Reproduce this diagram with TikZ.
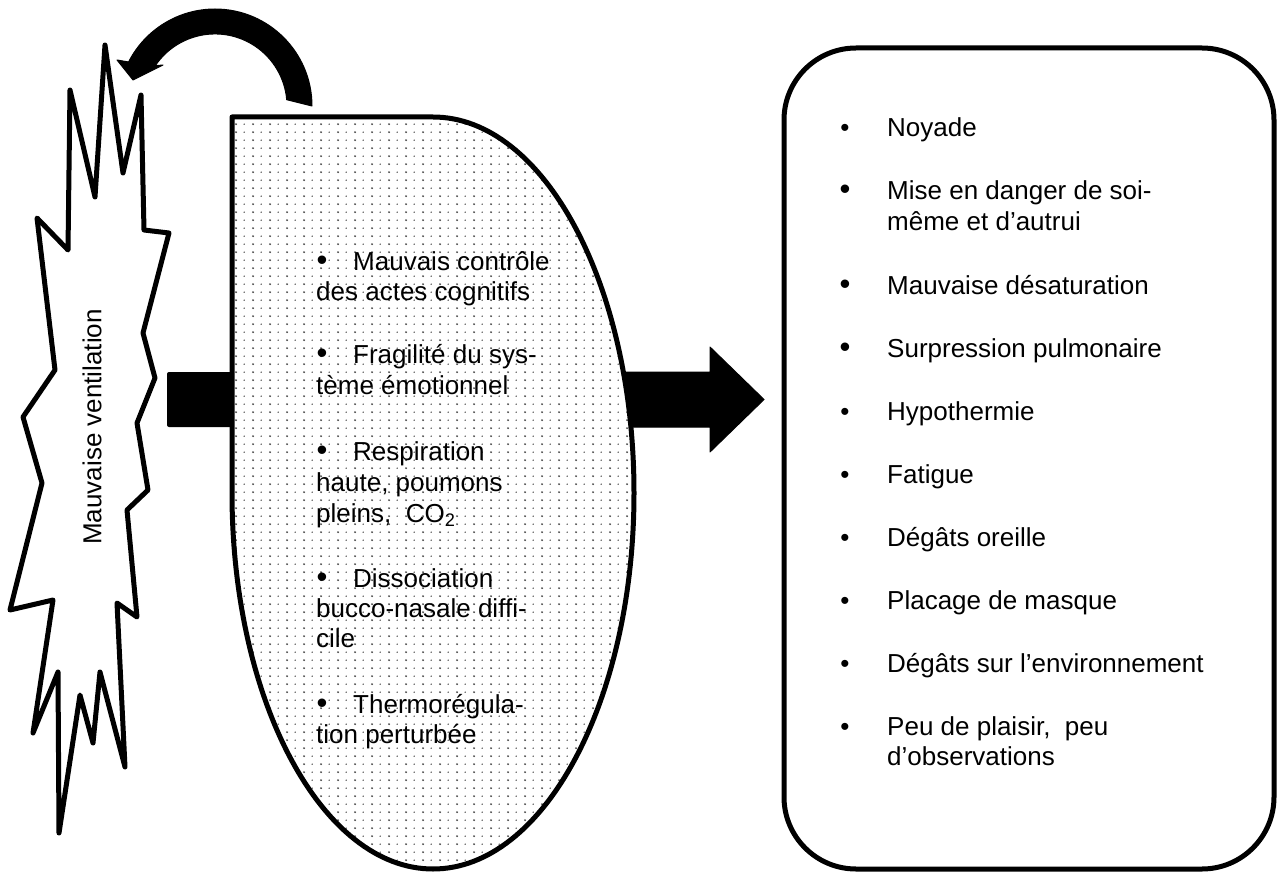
\documentclass[tikz,border=0pt]{standalone}
\usepackage{fontspec}
\setmainfont{Liberation Sans}
\usetikzlibrary{patterns.meta}

% halftone dot screen for the central body
\tikzdeclarepattern{
  name=halftone,
  type=uncolored,
  bounding box={(0pt,0pt) and (16.6pt,8.3pt)},
  tile size={(16.6pt,8.3pt)},
  code={
    \fill (4.15pt,4.15pt) circle (1.15pt);
    \fill (12.45pt,4.15pt) circle (0.8pt);
  }
}

\begin{document}
\begin{tikzpicture}[x=1pt,y=-1pt,
  outline/.style={line width=5pt, line join=round},
  txt/.style={inner sep=0pt, anchor=base west, font=\fontsize{26}{30}\selectfont},
  blt/.style={inner sep=0pt, anchor=base, font=\fontsize{26}{30}\selectfont},
  bigblt/.style={inner sep=0pt, anchor=base, font=\fontsize{31}{30}\selectfont},
]
\useasboundingbox (0,0) rectangle (1278,872);

% incoming bar (its head hides behind the body)
\fill[rounded corners=2pt] (167,372) rectangle (240,427);

% outgoing block arrow
\filldraw[line width=1pt, line join=round]
  (600,372) -- (710,372) -- (710,347) -- (764,399.5) -- (710,452)
  -- (710,427) -- (600,427) -- cycle;

% central body: ellipse with a square upper-left corner
\draw[outline, preaction={fill=white}, pattern=halftone, pattern color=black!70]
  (232,117) -- (433,117)
  arc[start angle=-90, end angle=180, x radius=201, y radius=376]
  -- cycle;

% curved feedback arrow
\filldraw[line width=1pt, line join=round]
  (312,106) arc[start angle=0, end angle=-153, radius=97]
  -- (117,60) -- (133,80) -- (163,65) -- (155.3,65.7)
  arc[start angle=-146, end angle=-5, radius=72]
  -- cycle;

% jagged burst
\draw[outline, fill=white]
  (105,45) -- (123,173) -- (141,95) -- (144,230) -- (169,233) -- (143,333)
  -- (155,378) -- (137,423) -- (148,490) -- (127,510) -- (137,617)
  -- (117,603) -- (125,767) -- (100,672) -- (93,743) -- (80,695)
  -- (59,833) -- (58,672) -- (33,733) -- (53,600) -- (10,610)
  -- (42,483) -- (23,417) -- (55,370) -- (37,218) -- (68,250)
  -- (70,90) -- (95,197) -- cycle;
\node[rotate=90, inner sep=0pt, font=\fontsize{26}{30}\selectfont] (vent) at (92,427) {Mauvaise ventilation};

% consequences box
\draw[outline, rounded corners=72pt] (784,48) rectangle (1274,869);

% causes inside the body
\node[bigblt] (cb1) at (322,270) {•};
\node[txt] (c1a) at (353,270) {Mauvais contrôle};
\node[txt] (c1b) at (316,300) {des actes cognitifs};
\node[bigblt] (cb2) at (322,363) {•};
\node[txt] (c2a) at (353,363) {Fragilité du sys-};
\node[txt] (c2b) at (316,394) {tème émotionnel};
\node[bigblt] (cb3) at (322,460) {•};
\node[txt] (c3a) at (353,460) {Respiration};
\node[txt] (c3b) at (316,491) {haute, poumons};
\node[txt] (c3c) at (316,522) {pleins,~ CO\textsubscript{2}};
\node[bigblt] (cb4) at (322,587) {•};
\node[txt] (c4a) at (353,587) {Dissociation};
\node[txt] (c4b) at (316,617) {bucco-nasale diffi-};
\node[txt] (c4c) at (316,647) {cile};
\node[bigblt] (cb5) at (322,713) {•};
\node[txt] (c5a) at (353,713) {Thermorégula-};
\node[txt] (c5b) at (316,743) {tion perturbée};

% consequences list
\node[blt] (rb1) at (845,137) {•};
\node[txt] (r1) at (887,137) {Noyade};
\node[bigblt] (rb2) at (845,200) {•};
\node[txt] (r2a) at (887,200) {Mise en danger de soi-};
\node[txt] (r2b) at (887,230) {même et d’autrui};
\node[bigblt] (rb3) at (845,294) {•};
\node[txt] (r3) at (887,294) {Mauvaise désaturation};
\node[bigblt] (rb4) at (845,357) {•};
\node[txt] (r4) at (887,357) {Surpression pulmonaire};
\node[blt] (rb5) at (845,420) {•};
\node[txt] (r5) at (887,420) {Hypothermie};
\node[blt] (rb6) at (845,483) {•};
\node[txt] (r6) at (887,483) {Fatigue};
\node[blt] (rb7) at (845,546) {•};
\node[txt] (r7) at (887,546) {Dégâts oreille};
\node[blt] (rb8) at (845,609) {•};
\node[txt] (r8) at (887,609) {Placage de masque};
\node[blt] (rb9) at (845,672) {•};
\node[txt] (r9) at (887,672) {Dégâts sur l’environnement};
\node[blt] (rb10) at (845,735) {•};
\node[txt] (r10a) at (887,735) {Peu de plaisir,~ peu};
\node[txt] (r10b) at (887,765) {d’observations};
\end{tikzpicture}
\end{document}
